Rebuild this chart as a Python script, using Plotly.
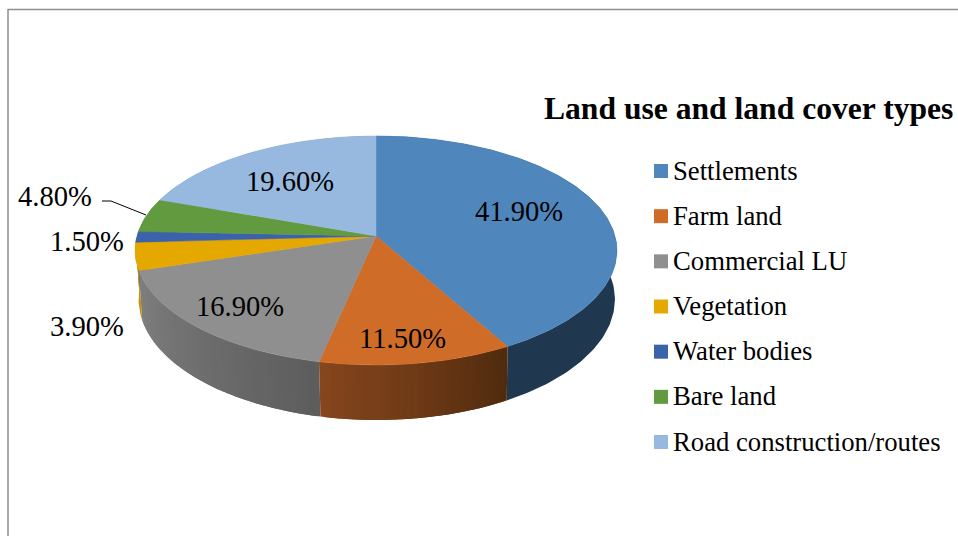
import math
import plotly.graph_objects as go

# Land use shares (percent), clockwise from twelve o'clock
categories = ["Settlements", "Farm land", "Commercial LU", "Vegetation",
              "Water bodies", "Bare land", "Road construction/routes"]
values = [41.9, 11.5, 16.9, 3.9, 1.5, 4.8, 19.6]
top_colors = ["#4F86BC", "#CF6D28", "#8F8F8F", "#E4A800", "#3A63AB", "#629A3F", "#97B9E0"]
# Rim shading at the start and end of each slice
rim_start = ["#1F3850", "#4F2A0E", "#5D5D5D", "#C79400", "#2A4A80", "#4A742F", "#708BA8"]
rim_end = ["#1F3850", "#88471E", "#808080", "#C79400", "#2A4A80", "#4A742F", "#708BA8"]
label_centers = [(519, 211), (402, 338), (240, 306), (87, 326), (87, 241), (55, 196), (290, 181)]

# Perspective disc: apex position, half-axes, foreshortening, rim depth,
# lower-edge taper and sideways drift
APEX_X, APEX_Y = 376, 236
AX, AY, PERSP, DEPTH, TAPER, DRIFT = 239, 112.7, 0.1266, 48, 0.9885, 0.75


def project(angle_deg, drop=0.0):
    """Map a rim angle (clockwise from top) to the chart plane; drop=1 is the lower edge."""
    t = math.radians(angle_deg)
    u, v = math.sin(t), math.cos(t)
    w = 1 + PERSP * v
    scale = 1 - (1 - TAPER) * drop
    return APEX_X + drop * DRIFT + scale * AX * u / w, APEX_Y - AY * v / w + drop * DEPTH / w


def mix(c1, c2, f):
    a = [int(c1[i:i + 2], 16) for i in (1, 3, 5)]
    b = [int(c2[i:i + 2], 16) for i in (1, 3, 5)]
    return "rgb(%d,%d,%d)" % tuple(round(p + (q - p) * f) for p, q in zip(a, b))


fig = go.Figure()
total = sum(values)
edges = [0.0]
for val in values:
    edges.append(edges[-1] + val / total * 360)

# Rim strips: inside a slice each one runs slightly past its neighbour so no seams show
strips = []
for i in range(len(categories)):
    start, end = edges[i], edges[i + 1]
    steps = 1 if rim_start[i] == rim_end[i] else max(2, int((end - start) / 1.5))
    for s in range(steps):
        a0 = start + (end - start) * s / steps
        a1 = start + (end - start) * (s + 1) / steps
        strips.append((max(start, a0 - 0.8), min(end, a1 + 0.8),
                       mix(rim_start[i], rim_end[i], (s + 0.5) / steps)))

# Painted from the back of the disc towards the viewer
strips.sort(key=lambda st: -math.cos(math.radians((st[0] + st[1]) / 2)))
for a0, a1, col in strips:
    n = max(2, int((a1 - a0) / 1.0))
    angs = [a0 + (a1 - a0) * k / n for k in range(n + 1)]
    upper = [project(a) for a in angs]
    lower = [project(a, 1) for a in reversed(angs)]
    loop = upper + lower + upper[:1]
    fig.add_trace(go.Scatter(
        x=[q[0] for q in loop], y=[q[1] for q in loop],
        mode="lines", fill="toself", fillcolor=col,
        line=dict(color=col, width=0), hoverinfo="skip", showlegend=False))

# Slice tops
for i, name in enumerate(categories):
    start, end = edges[i], edges[i + 1]
    steps = max(4, int((end - start) / 1.0))
    rim = [project(start + (end - start) * s / steps) for s in range(steps + 1)]
    fig.add_trace(go.Scatter(
        x=[APEX_X] + [q[0] for q in rim] + [APEX_X],
        y=[APEX_Y] + [q[1] for q in rim] + [APEX_Y],
        mode="lines", fill="toself", fillcolor=top_colors[i],
        line=dict(color=top_colors[i], width=0.5), name=name,
        text=f"{name}: {values[i]:.2f}%", hoverinfo="text", showlegend=False))

annotations = []
SERIF = "Liberation Serif"
for val, (lx, ly) in zip(values, label_centers):
    annotations.append(dict(x=lx, y=ly, text=f"{val:.2f}%", showarrow=False,
                            font=dict(family=SERIF, size=28.6, color="#000000"),
                            xanchor="center", yanchor="middle"))

# Hand-laid legend column
LEG_TOP, LEG_STEP = 171, 45.17
for i, name in enumerate(categories):
    y = LEG_TOP + i * LEG_STEP
    fig.add_trace(go.Scatter(x=[661], y=[y], mode="markers", hoverinfo="skip", showlegend=False,
                             marker=dict(symbol="square", size=14, color=top_colors[i], line=dict(width=0))))
    annotations.append(dict(x=670.7, y=y - 0.5, text=name, showarrow=False,
                            xanchor="left", yanchor="middle",
                            font=dict(family=SERIF, size=26.7, color="#000000")))

annotations.append(dict(x=542, y=108.5, text="<b>Land use and land cover types</b>", showarrow=False,
                        xanchor="left", yanchor="middle",
                        font=dict(family=SERIF, size=31.6, color="#000000")))

shapes = [
    dict(type="line", x0=8, x1=958, y0=9.5, y1=9.5, line=dict(color="#8E8E8E", width=1.3)),
    dict(type="line", x0=8, x1=8, y0=9, y1=536, line=dict(color="#8E8E8E", width=1.5)),
    dict(type="path", path="M 102 201 L 111 201 L 146 215", line=dict(color="#000000", width=1)),
]

fig.update_layout(
    width=958, height=536, margin=dict(l=0, r=0, t=0, b=0),
    paper_bgcolor="#FFFFFF", plot_bgcolor="#FFFFFF", showlegend=False,
    xaxis=dict(range=[0, 958], visible=False, fixedrange=True),
    yaxis=dict(range=[536, 0], visible=False, fixedrange=True),
    annotations=annotations, shapes=shapes,
)
fig.write_html("out.html", config=dict(displayModeBar=False))
